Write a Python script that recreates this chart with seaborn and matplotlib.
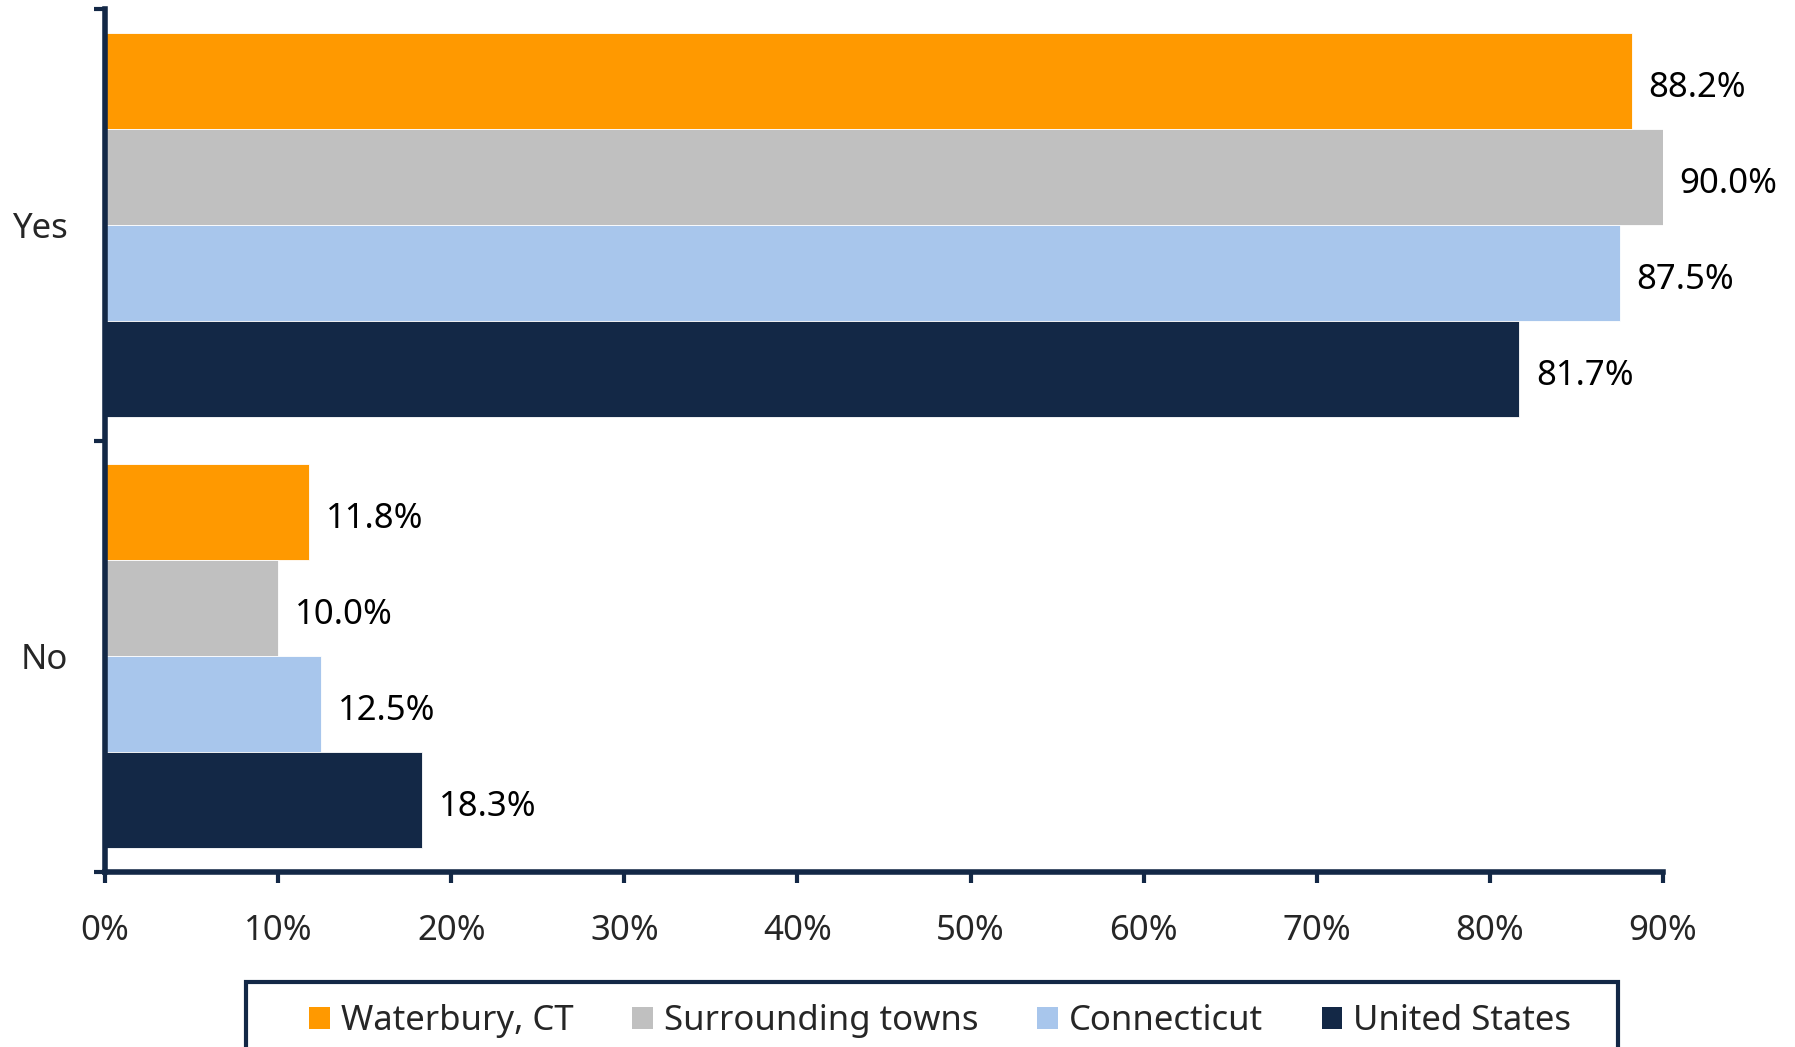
import matplotlib
matplotlib.use("Agg")
import matplotlib.pyplot as plt
import seaborn as sns
import pandas as pd
from matplotlib.patches import Rectangle
from matplotlib.ticker import FuncFormatter, FixedLocator

# data
answers = ["Yes", "No"]
regions = ["Waterbury, CT", "Surrounding towns", "Connecticut", "United States"]
yes_pct = [88.2, 90.0, 87.5, 81.7]
no_pct = [11.8, 10.0, 12.5, 18.3]
x_ticks = [0, 10, 20, 30, 40, 50, 60, 70, 80, 90]

colors = ["#FF9900", "#C0C0C0", "#A8C6EC", "#132846"]
navy = "#132846"

df = pd.DataFrame({
    "answer": ["Yes"] * 4 + ["No"] * 4,
    "region": regions * 2,
    "pct": yes_pct + no_pct,
})

sns.set_theme(style="white")
plt.rcParams["font.family"] = ["Noto Sans", "DejaVu Sans"]

fig = plt.figure(figsize=(17.95, 10.47), dpi=100)
ax = fig.add_axes([0.0585, 0.1671, 0.868, 0.8243])

sns.barplot(data=df, y="answer", x="pct", hue="region", order=answers,
            hue_order=regions, palette=colors, saturation=1, orient="h",
            width=0.89, gap=0, edgecolor="white", linewidth=0.6, ax=ax,
            legend=True)

for cont in ax.containers:
    for ann in ax.bar_label(cont, fmt="%.1f%%", padding=12, fontsize=25,
                            color="black"):
        ann.xyann = (12, -5)

ax.set_xlim(0, 90)
ax.set_ylim(1.5, -0.5)
ax.set_xlabel("")
ax.set_ylabel("")

ax.xaxis.set_major_locator(FixedLocator(x_ticks))
ax.xaxis.set_major_formatter(FuncFormatter(lambda v, p: f"{v:.0f}%"))
ax.tick_params(axis="x", direction="out", length=8, width=3, color=navy,
               labelsize=25, pad=22, bottom=True)

ax.yaxis.set_major_locator(FixedLocator([-0.5, 0.5, 1.5]))
ax.yaxis.set_major_formatter(FuncFormatter(lambda v, p: ""))
ax.yaxis.set_minor_locator(FixedLocator([0, 1]))
ax.yaxis.set_minor_formatter(FuncFormatter(lambda v, p: answers[int(round(v))]))
ax.tick_params(axis="y", which="major", direction="out", length=8, width=3,
               color=navy, left=True)
ax.tick_params(axis="y", which="minor", length=0, labelsize=25, pad=27, left=True)

for s in ["top", "right"]:
    ax.spines[s].set_visible(False)
for s in ["left", "bottom"]:
    ax.spines[s].set_color(navy)
    ax.spines[s].set_linewidth(4)

# legend: entries without frame, box drawn separately so it can run off the bottom
handles, labels = ax.get_legend_handles_labels()
ax.get_legend().remove()
leg = fig.legend(handles, labels, loc="center", bbox_to_anchor=(0.5238, 0.0245),
                 ncol=4, fontsize=25, frameon=False,
                 handlelength=0.6, handleheight=0.6, handletextpad=0.3,
                 columnspacing=1.7, borderpad=0, borderaxespad=0)
for h in leg.legend_handles:
    h.set_edgecolor("none")

fig.patches.append(Rectangle((246 / 1795, -0.05), (1618 - 246) / 1795,
                             0.05 + 1 - 982 / 1047, transform=fig.transFigure,
                             facecolor="none", edgecolor=navy, linewidth=3))

fig.savefig("out.png", dpi=100)
